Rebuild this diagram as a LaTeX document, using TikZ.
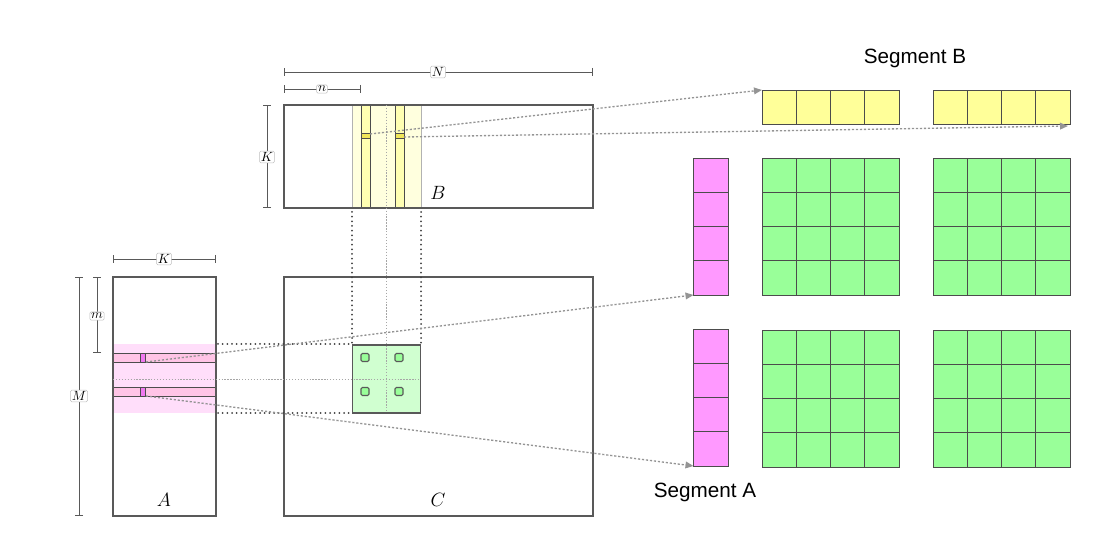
\documentclass[tikz,border=0pt]{standalone}
\usepackage{fontspec}
\newfontfamily\arialf{Liberation Sans}
\usetikzlibrary{arrows.meta}
\definecolor{bandyellow}{RGB}{255,255,222}
\definecolor{colyellow}{RGB}{255,255,178}
\definecolor{markyellow}{RGB}{240,230,90}
\definecolor{cellyellow}{RGB}{255,255,153}
\definecolor{bandpink}{RGB}{255,222,250}
\definecolor{rowpink}{RGB}{255,196,230}
\definecolor{markpink}{RGB}{240,120,240}
\definecolor{cellpink}{RGB}{255,153,255}
\definecolor{blockgreen}{RGB}{208,255,208}
\definecolor{cellgreen}{RGB}{153,255,153}
\tikzset{
  frame/.style={draw=black!65, line width=0.8pt},
  thinframe/.style={draw=black!70, line width=0.6pt},
  dimline/.style={draw=black!65, line width=0.6pt, {Bar[width=6pt]}-{Bar[width=6pt]}},
  dimlabel/.style={fill=white, draw=black!25, rounded corners=1pt, inner sep=1pt, font=\fontsize{10}{12}\selectfont},
  matlabel/.style={font=\fontsize{15}{18}\selectfont},
  seglabel/.style={font=\arialf\fontsize{15.5}{18}\selectfont},
  blackdots/.style={draw=black!75, line width=1.5pt, line cap=round, dash pattern=on 0pt off 3.5pt},
  centerdots/.style={draw=black!35, line width=0.6pt, dash pattern=on 1pt off 1.2pt},
  dotarrow/.style={draw=black!42, line width=1pt, dash pattern=on 1.6pt off 1.4pt, -{Triangle[length=6pt,width=5pt,fill=black!42]}},
  cellline/.style={draw=black!70, line width=0.6pt},
  box/.style={inner sep=0pt, outer sep=0pt, anchor=north west}
}
\begin{document}
\begin{tikzpicture}[x=0.75pt, y=-0.75pt]
\useasboundingbox (0,0) rectangle (1104,534);

% ---------- B matrix ----------
\fill[bandyellow] (352,105) rectangle (421,208);
\draw[black!30, line width=0.6pt] (352,105) -- (352,208) (421,105) -- (421,208);
\draw[thinframe, fill=colyellow] (361,105) rectangle (370,208);
\draw[thinframe, fill=colyellow] (395,105) rectangle (404,208);
\draw[thinframe, fill=markyellow] (361,133) rectangle (370,138);
\draw[thinframe, fill=markyellow] (395,133) rectangle (404,138);
\node[box, frame, minimum width=309*0.75pt, minimum height=103*0.75pt] (B) at (284,105) {};
\node[matlabel] (Blab) at (438,193) {$B$};
% dimensions of B
\coordinate (N1) at (284,72); \coordinate (N2) at (593,72);
\draw[dimline] (N1) -- (N2);
\node[dimlabel] at (438,72) {$N$};
\coordinate (n1) at (284,89); \coordinate (n2) at (361,89);
\draw[dimline] (n1) -- (n2);
\node[dimlabel] at (322,89) {$n$};
\coordinate (KB1) at (267,105); \coordinate (KB2) at (267,208);
\draw[dimline] (KB1) -- (KB2);
\node[dimlabel] at (267,157) {$K$};

% ---------- A matrix ----------
\fill[bandpink] (113,344) rectangle (216,413);
\draw[thinframe, fill=rowpink] (113,353) rectangle (216,362);
\draw[thinframe, fill=rowpink] (113,387) rectangle (216,396);
\draw[thinframe, fill=markpink] (140,353) rectangle (145,362);
\draw[thinframe, fill=markpink] (140,387) rectangle (145,396);
\node[box, frame, minimum width=103*0.75pt, minimum height=239*0.75pt] (A) at (113,277) {};
\node[matlabel] (Alab) at (164,500) {$A$};
\coordinate (KA1) at (113,259); \coordinate (KA2) at (216,259);
\draw[dimline] (KA1) -- (KA2);
\node[dimlabel] at (164,259) {$K$};
\coordinate (m1) at (97,277); \coordinate (m2) at (97,353);
\draw[dimline] (m1) -- (m2);
\node[dimlabel] at (97,316) {$m$};
\coordinate (M1) at (79,277); \coordinate (M2) at (79,516);
\draw[dimline] (M1) -- (M2);
\node[dimlabel] at (79,396) {$M$};

% ---------- C matrix ----------
\node[box, frame, minimum width=309*0.75pt, minimum height=239*0.75pt] (C) at (284,277) {};
\node[matlabel] (Clab) at (438,500) {$C$};
\node[box, frame, fill=blockgreen, minimum width=68*0.75pt, minimum height=68*0.75pt] (G) at (352.5,345) {};
\foreach \cx/\cy in {365/357.5, 399/357.5, 365/391.5, 399/391.5}
  \draw[frame, fill=cellgreen, rounded corners=1pt] (\cx-4,\cy-4) rectangle (\cx+4,\cy+4);

% guide lines
\draw[centerdots] (386,105) -- (386,413);
\draw[centerdots] (113,379) -- (421,379);
\draw[blackdots] (352,212) -- (352,345);
\draw[blackdots] (421,212) -- (421,345);
\draw[blackdots] (218,344) -- (352,344);
\draw[blackdots] (218,413) -- (352,413);

% ---------- right side ----------
\node[seglabel] at (915,58) {Segment B};
\node[seglabel] at (705,492) {Segment A};
% yellow rows
\node[box, minimum width=137*0.75pt, minimum height=34*0.75pt] (Y1) at (762,90) {};
\node[box, minimum width=137*0.75pt, minimum height=34*0.75pt] (Y2) at (933,90) {};
\foreach \xo in {762,933}{
  \foreach \i in {0,1,2,3}
    \draw[cellline, fill=cellyellow] ({\xo+\i*34.25},90) rectangle ({\xo+(\i+1)*34.25},124);
}
% green grids
\foreach \xo in {762,933}{
  \foreach \yo in {158,330}{
    \foreach \i in {0,1,2,3}{
      \foreach \j in {0,1,2,3}
        \draw[cellline, fill=cellgreen] ({\xo+\i*34.25},{\yo+\j*34.25}) rectangle ({\xo+(\i+1)*34.25},{\yo+(\j+1)*34.25});
    }
  }
}
% pink columns
\node[box, minimum width=35*0.75pt, minimum height=137*0.75pt] (P1) at (693.5,158) {};
\node[box, minimum width=35*0.75pt, minimum height=137*0.75pt] (P2) at (693.5,329) {};
\foreach \yo in {158,329}{
  \foreach \j in {0,1,2,3}
    \draw[cellline, fill=cellpink] (693.5,{\yo+\j*34.25}) rectangle (728.5,{\yo+(\j+1)*34.25});
}

% arrows
\coordinate (bm1) at (370,134);
\coordinate (bm2) at (404,137);
\coordinate (am1) at (146,362);
\coordinate (am2) at (146,396);
\draw[dotarrow] (bm1) -- (Y1.north west);
\draw[dotarrow] (bm2) -- ([xshift=-1.5pt,yshift=-1.5pt]Y2.south east);
\draw[dotarrow] (am1) -- (P1.south west);
\draw[dotarrow] (am2) -- (P2.south west);
\end{tikzpicture}
\end{document}
